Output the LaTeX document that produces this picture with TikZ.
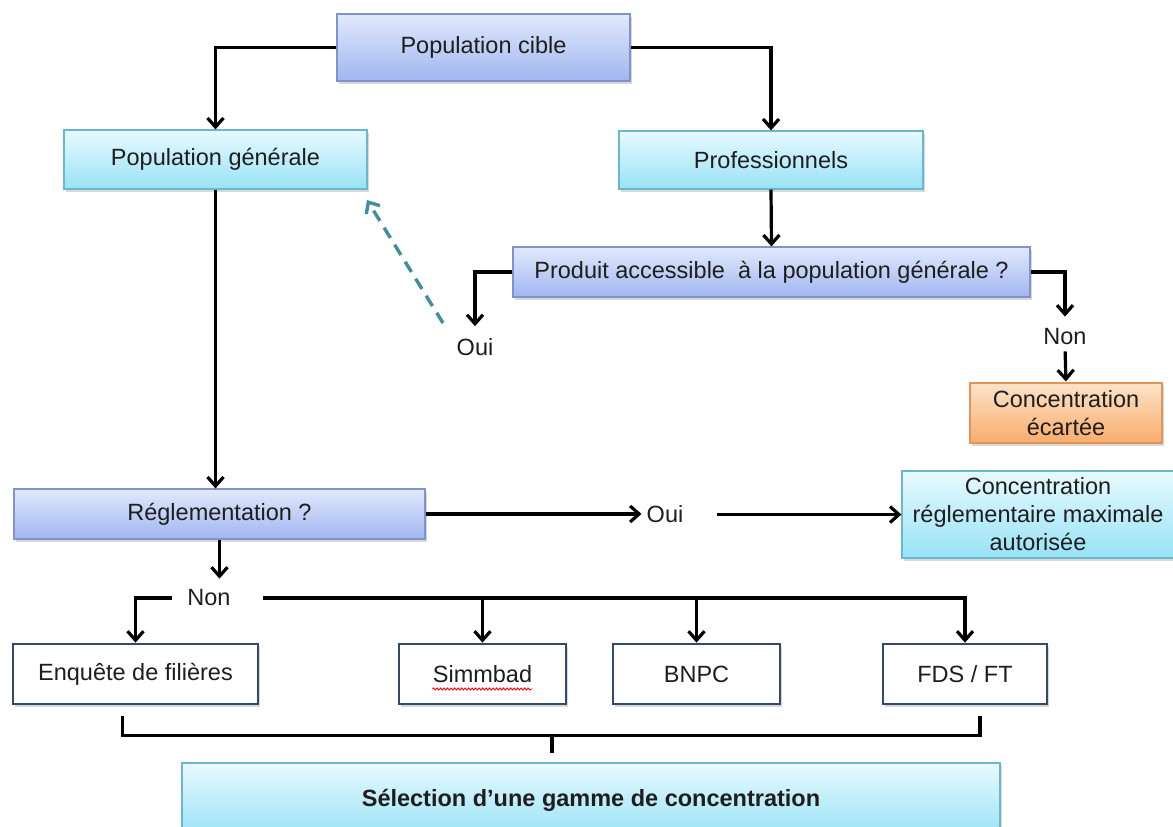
\documentclass[tikz,border=0pt]{standalone}
\usepackage{fontspec}
\setmainfont{Liberation Sans}
\usetikzlibrary{arrows.meta,shadows,calc,decorations.pathmorphing}

\definecolor{bluetop}{HTML}{E2E9FC}
\definecolor{bluebot}{HTML}{A0B6EF}
\definecolor{blueedge}{HTML}{7F94CC}
\definecolor{cyantop}{HTML}{E8FAFE}
\definecolor{cyanbot}{HTML}{98E2F6}
\definecolor{cyanedge}{HTML}{6AB8CE}
\definecolor{orgtop}{HTML}{FDE3C8}
\definecolor{orgbot}{HTML}{F8AC6C}
\definecolor{orgedge}{HTML}{E0965A}
\definecolor{navyedge}{HTML}{34496E}
\definecolor{dashteal}{HTML}{3F8F9D}
\definecolor{txt}{HTML}{1E1E1E}

\tikzset{
  base/.style={font=\fontsize{23.5}{28}\selectfont, text=txt, align=center, inner sep=0pt,
    drop shadow={opacity=0.3, shadow xshift=1.5pt, shadow yshift=-2.5pt}},
  bluebox/.style={base, draw=blueedge, line width=1.2pt, top color=bluetop, bottom color=bluebot},
  cyanbox/.style={base, draw=cyanedge, line width=1.2pt, top color=cyantop, bottom color=cyanbot},
  orgbox/.style={base, draw=orgedge, line width=1.2pt, top color=orgtop, bottom color=orgbot},
  whitebox/.style={base, draw=navyedge, line width=2.8pt, fill=white, minimum height=60pt},
  lbl/.style={font=\fontsize{23.5}{28}\selectfont, text=txt, inner sep=2pt},
  arr/.style={line width=3.2pt, -{Straight Barb[length=9pt,width=16pt]}},
  plain/.style={line width=3.2pt},
  dasharr/.style={line width=3.4pt, draw=dashteal, dash pattern=on 12pt off 8pt,
    -{Straight Barb[length=9pt,width=16pt]}}
}

\begin{document}
\begin{tikzpicture}[x=1pt,y=-1pt]
\useasboundingbox (0,0) rectangle (1173,827);
\fill[white] (0,0) rectangle (1173,827);
\clip (0,0) rectangle (1173,827);

\node[bluebox, minimum width=293pt, minimum height=67pt] (popc) at (483.5,47.5) {Population cible};
\node[cyanbox, minimum width=303pt, minimum height=59pt] (popg) at (215.5,159.5) {Population générale};
\node[cyanbox, minimum width=304pt, minimum height=58pt] (prof) at (771,160) {Professionnels};
\node[bluebox, minimum width=517pt, minimum height=50pt] (prod) at (771.5,272) {Produit accessible\ \ à la population générale ?};
\node[lbl] (oui1) at (475,347) {Oui};
\node[lbl] (non1) at (1065,337) {Non};
\node[orgbox, minimum width=192pt, minimum height=60pt] (ecart) at (1066,413) {Concentration\\écartée};
\node[bluebox, minimum width=411pt, minimum height=50pt] (regl) at (219.5,514) {Réglementation ?};
\node[lbl] (oui2) at (665,514) {Oui};
\node[cyanbox, minimum width=272pt, minimum height=87pt] (crma) at (1038,514.5) {Concentration\\réglementaire maximale\\autorisée};
\node[lbl] (non2) at (209,598) {Non};
\node[whitebox, minimum width=245pt] (enq) at (135.5,674) {Enquête de filières};
\node[whitebox, minimum width=167pt] (simm) at (482.5,674) {Simmbad};
\node[whitebox, minimum width=167pt] (bnpc) at (696.5,674) {BNPC};
\node[whitebox, minimum width=164pt] (fds) at (965,674) {FDS / FT};
\node[cyanbox, minimum width=818pt, minimum height=74pt, font=\fontsize{23.5}{28}\selectfont\bfseries] (sel) at (591,800) {Sélection d’une gamme de concentration};

\coordinate (dtail) at (443,323);
\coordinate (dtip) at (367,200);
\coordinate (bm) at (552,734);

\draw[arr] (popc.west) -| (popg.north);
\draw[arr] (popc.east) -| (prof.north);
\draw[arr] (prof.south) -- (prod.north);
\draw[arr, shorten >=10pt] (prod.west) -| (oui1.north);
\draw[arr, shorten >=10pt] (prod.east) -| (non1.north);
\draw[arr, shorten <=4pt, shorten >=1pt] (non1.south) -- (ecart.north);
\draw[dasharr] (dtail) -- (dtip);
\draw[arr] (popg.south) -- (popg.south |- regl.north);
\draw[arr, shorten >=3pt] (regl.east) -- (regl.east -| oui2.west);
\draw[arr] ([xshift=32pt]oui2.east |- crma.west) -- (crma.west);
\draw[arr, shorten >=9pt] (regl.south) -- (regl.south |- non2.north);
\draw[arr] ([xshift=-13pt]non2.west) -| (enq.north);
\draw[arr] ([xshift=30pt]non2.east) -| (fds.north);
\draw[arr] (simm.north |- non2) -- (simm.north);
\draw[arr] (bnpc.north |- non2) -- (bnpc.north);

\draw[plain] ([xshift=-13pt,yshift=-11pt]enq.south) -- ++(0,19) -| ([xshift=15pt,yshift=-11pt]fds.south);
\draw[plain] (bm) -- ++(0,19);

\draw[red, line width=0.9pt, decorate, decoration={snake, amplitude=1pt, segment length=3.5pt}]
  ([xshift=-50pt,yshift=-15pt]simm.center) -- ([xshift=50pt,yshift=-15pt]simm.center);
\end{tikzpicture}
\end{document}
